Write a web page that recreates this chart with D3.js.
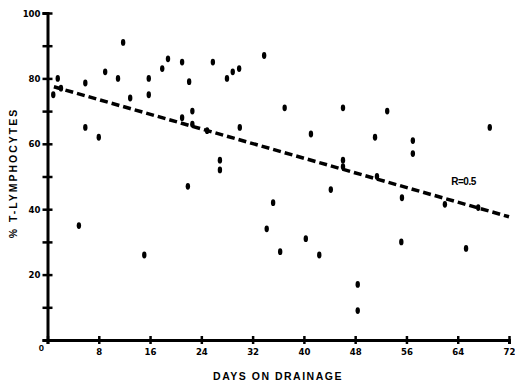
<!DOCTYPE html>
<html>
<head>
<meta charset="utf-8">
<script src="https://cdn.jsdelivr.net/npm/d3@7"></script>
<style>
  body { margin: 0; background: #fff; }
  svg { display: block; }
  .axis path.domain { stroke: #000; stroke-width: 3; }
  .axis line { stroke: #000; stroke-width: 2.5; }
  .axis text { font-family: "Liberation Sans Narrow", "DejaVu Sans Condensed", Arial, sans-serif; font-weight: bold; font-size: 9.5px; fill: #000; }
</style>
</head>
<body>
<div id="chart"></div>
<script>
// days on drainage / % T-lymphocytes
const days = [11.8, 9.0, 11.0, 15.8, 17.9, 18.8, 15.8, 12.9, 5.9, 1.6, 2.1, 0.9, 5.9, 8.0,
  21.0, 25.8, 22.1, 28.0, 28.9, 29.9, 33.8, 37.0, 30.0, 22.6, 22.6, 21.0, 24.9,
  46.1, 53.0, 41.1, 51.1, 69.0, 57.0, 57.0, 55.3, 62.0, 67.2, 26.9, 26.9, 21.9,
  35.2, 34.2, 36.3, 46.1, 51.4, 44.2, 40.3, 42.4, 55.2, 48.4, 48.4, 65.3, 4.9, 15.1, 46.1];
const pct = [91, 82, 80, 80, 83, 86, 75, 74, 78.6, 80, 77, 75, 65, 62,
  85, 85, 79, 80, 82, 83, 87, 71, 65, 70, 66, 68, 64,
  71, 70, 63, 62, 65, 61, 57, 43.5, 41.5, 40.5, 55, 52, 47,
  42, 34, 27, 55, 50, 46, 31, 26, 30, 17, 9, 28, 35, 26, 53];
const xTicks = [0, 8, 16, 24, 32, 40, 48, 56, 64, 72];
const yTicks = [0, 10, 20, 30, 40, 50, 60, 70, 80, 90, 100];
const yLabelled = [20, 40, 60, 80, 100];
const fit = { intercept: 78, slope: -0.56, label: "R=0.5" };

const W = 515, H = 386;
const svg = d3.select('#chart').append('svg').attr('width', W).attr('height', H);

const x = d3.scaleLinear().domain([0, 72]).range([47.5, 509]);
const y = d3.scaleLinear().domain([0, 100]).range([340, 13]);

// y axis
const yAxis = svg.append('g')
  .attr('class', 'axis')
  .attr('transform', `translate(${x(0)},0)`)
  .call(d3.axisLeft(y).tickValues(yTicks).tickSizeOuter(0).tickSize(5)
    .tickFormat(d => yLabelled.includes(d) ? d : ''));
yAxis.selectAll('.tick line').attr('x1', -5).attr('x2', 5);
yAxis.selectAll('.tick text').attr('x', -7);

// x axis
const xAxis = svg.append('g')
  .attr('class', 'axis')
  .attr('transform', `translate(0,${y(0)})`)
  .call(d3.axisBottom(x).tickValues(xTicks).tickSizeOuter(0).tickSize(4)
    .tickFormat(d => d === 0 ? '' : d));
xAxis.selectAll('.tick line').attr('y1', -4).attr('y2', 4);
xAxis.selectAll('.tick text').attr('y', 8);

svg.append('text')
  .attr('x', x(0) - 6).attr('y', y(0) + 11)
  .attr('text-anchor', 'middle')
  .style('font-family', '"Liberation Sans Narrow", Arial, sans-serif')
  .style('font-weight', 'bold').style('font-size', '9.5px')
  .text('0');

// regression line
svg.append('line')
  .attr('x1', x(1)).attr('y1', y(fit.intercept + fit.slope * 1))
  .attr('x2', x(72)).attr('y2', y(fit.intercept + fit.slope * 72))
  .attr('stroke', '#000').attr('stroke-width', 3.5)
  .attr('stroke-dasharray', '8,4');

svg.append('text')
  .attr('x', x(63)).attr('y', y(47.5))
  .style('font-family', 'Arial, sans-serif').style('font-weight', 'bold')
  .style('font-size', '10px').style('letter-spacing', '-0.5px')
  .text(fit.label);

// data points
svg.append('g').selectAll('ellipse')
  .data(days.map((d, i) => [d, pct[i]]))
  .enter().append('ellipse')
  .attr('cx', d => x(d[0]))
  .attr('cy', d => y(d[1]))
  .attr('rx', 2.2)
  .attr('ry', 3.4)
  .attr('fill', '#000');

// axis titles
svg.append('text')
  .attr('x', 278).attr('y', 380)
  .attr('text-anchor', 'middle')
  .style('font-family', 'Arial, sans-serif').style('font-weight', 'bold')
  .style('font-size', '10.5px').style('letter-spacing', '1.5px')
  .text('DAYS ON DRAINAGE');

svg.append('text')
  .attr('transform', 'translate(17,173) rotate(-90)')
  .attr('text-anchor', 'middle')
  .style('font-family', 'Arial, sans-serif').style('font-weight', 'bold')
  .style('font-size', '10.5px').style('letter-spacing', '2px')
  .text('% T-LYMPHOCYTES');
</script>
</body>
</html>
